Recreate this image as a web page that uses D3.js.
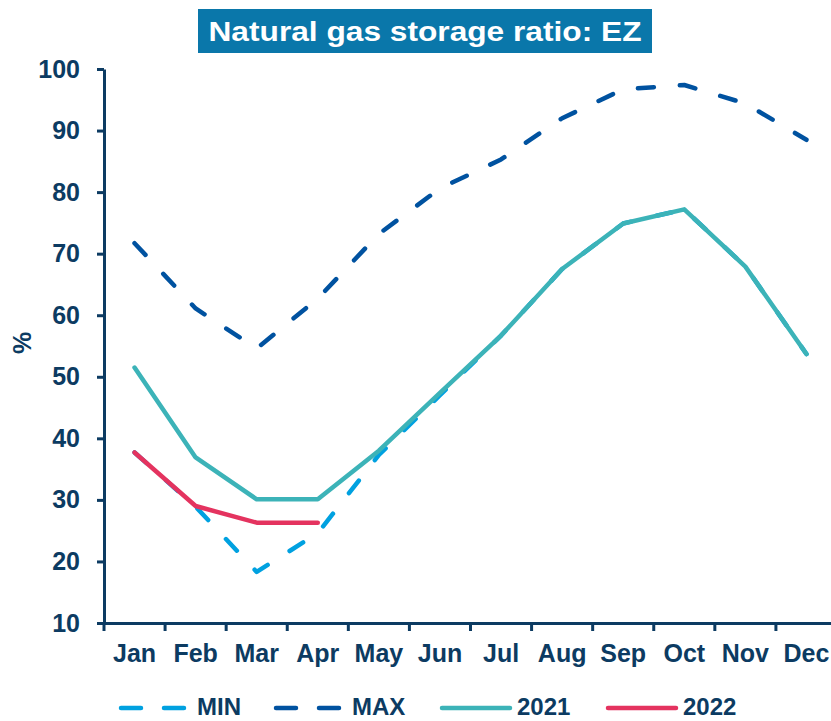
<!doctype html>
<html>
<head>
<meta charset="utf-8">
<script src="https://cdnjs.cloudflare.com/ajax/libs/d3/7.8.5/d3.min.js"></script>
<style>
  body { margin: 0; background: #fff; }
  svg { display: block; font-family: "Liberation Sans", Arial, sans-serif; }
</style>
</head>
<body>
<svg id="chart" width="831" height="721"></svg>
<script>
// values
var months = ["Jan", "Feb", "Mar", "Apr", "May", "Jun", "Jul", "Aug", "Sep", "Oct", "Nov", "Dec"];
var minVals = [37.7, 28.9, 18.3, 24.6, 37.3, 47.0, 56.7, 67.5, 74.9, 77.2, 67.9, 53.7];
var maxVals = [71.7, 61.1, 54.6, 62.7, 73.2, 80.6, 85.3, 92.0, 96.7, 97.4, 94.4, 88.5];
var vals2021 = [51.5, 36.9, 30.1, 30.1, 38.0, 47.4, 56.7, 67.5, 74.9, 77.2, 67.9, 53.7];
var vals2022 = [37.7, 29.0, 26.3, 26.3];
var yTicks = [10, 20, 30, 40, 50, 60, 70, 80, 90, 100];

var navy = "#0c3b62";
var svg = d3.select("#chart");

var x = d3.scaleBand().domain(months).range([104, 837]).paddingInner(0).paddingOuter(0);
var y = d3.scaleLinear().domain([10, 100]).range([623, 69]);
var cx = function(i) { return x(months[i]) + x.bandwidth() / 2; };

// title box
svg.append("rect").attr("x", 198).attr("y", 9).attr("width", 454).attr("height", 44).attr("fill", "#0a77aa");
svg.append("text").attr("x", 425).attr("y", 41).attr("text-anchor", "middle")
  .attr("fill", "#fff").attr("font-weight", 700).attr("font-size", 28)
  .attr("textLength", 433).attr("lengthAdjust", "spacingAndGlyphs")
  .text("Natural gas storage ratio: EZ");

// y axis
var yAxis = d3.axisLeft(y).tickValues(yTicks).tickSize(7).tickSizeOuter(0).tickPadding(17);
var yG = svg.append("g").attr("transform", "translate(104,0)").call(yAxis);
yG.select(".domain").attr("stroke", navy).attr("stroke-width", 3);
yG.selectAll(".tick line").attr("stroke", navy).attr("stroke-width", 3);
yG.selectAll(".tick text").attr("fill", navy).attr("font-size", 25).attr("font-weight", 700)
  .attr("font-family", "Liberation Sans, Arial, sans-serif");

svg.append("text").attr("transform", "translate(31,343) rotate(-90)").attr("text-anchor", "middle")
  .attr("fill", navy).attr("font-size", 25).attr("font-weight", 700).text("%");

// x axis (ticks at month boundaries, labels at centres)
var xAxis = d3.axisBottom(x).tickSize(0).tickSizeOuter(0).tickPadding(21);
var xG = svg.append("g").attr("transform", "translate(0,623)").call(xAxis);
xG.select(".domain").attr("stroke", navy).attr("stroke-width", 3);
xG.selectAll(".tick text").attr("fill", navy).attr("font-size", 25).attr("font-weight", 700)
  .attr("font-family", "Liberation Sans, Arial, sans-serif");
xG.selectAll("line.bound").data(months.concat(["end"])).enter().append("line")
  .attr("class", "bound")
  .attr("x1", function(d, i) { return i < 12 ? x(d) : x.range()[1]; })
  .attr("x2", function(d, i) { return i < 12 ? x(d) : x.range()[1]; })
  .attr("y1", 0).attr("y2", 8).attr("stroke", navy).attr("stroke-width", 3);

// lines
var line = d3.line().x(function(d, i) { return cx(i); }).y(function(d) { return y(d); });
var series = [
  { name: "MIN", data: minVals, color: "#00a1e0", dash: "16,26" },
  { name: "MAX", data: maxVals, color: "#0052a0", dash: "16,26" },
  { name: "2021", data: vals2021, color: "#3cb3b8", dash: null },
  { name: "2022", data: vals2022, color: "#e4335f", dash: null }
];
series.forEach(function(s) {
  svg.append("path").datum(s.data).attr("d", line)
    .attr("fill", "none").attr("stroke", s.color).attr("stroke-width", 4.5)
    .attr("stroke-linecap", "round").attr("stroke-linejoin", "round")
    .attr("stroke-dasharray", s.dash);
});

// legend
var legendPos = [
  { x1: 121, x2: 184, tx: 197 },
  { x1: 276, x2: 339, tx: 352 },
  { x1: 442, x2: 510, tx: 517 },
  { x1: 608, x2: 676, tx: 683 }
];
series.forEach(function(s, i) {
  var p = legendPos[i];
  svg.append("line").attr("x1", p.x1).attr("x2", p.x2).attr("y1", 708).attr("y2", 708)
    .attr("stroke", s.color).attr("stroke-width", 4.5).attr("stroke-linecap", "round")
    .attr("stroke-dasharray", s.dash ? "20,23" : null);
  svg.append("text").attr("x", p.tx).attr("y", 715).attr("fill", navy)
    .attr("font-size", 24).attr("font-weight", 700).text(s.name);
});
</script>
</body>
</html>
